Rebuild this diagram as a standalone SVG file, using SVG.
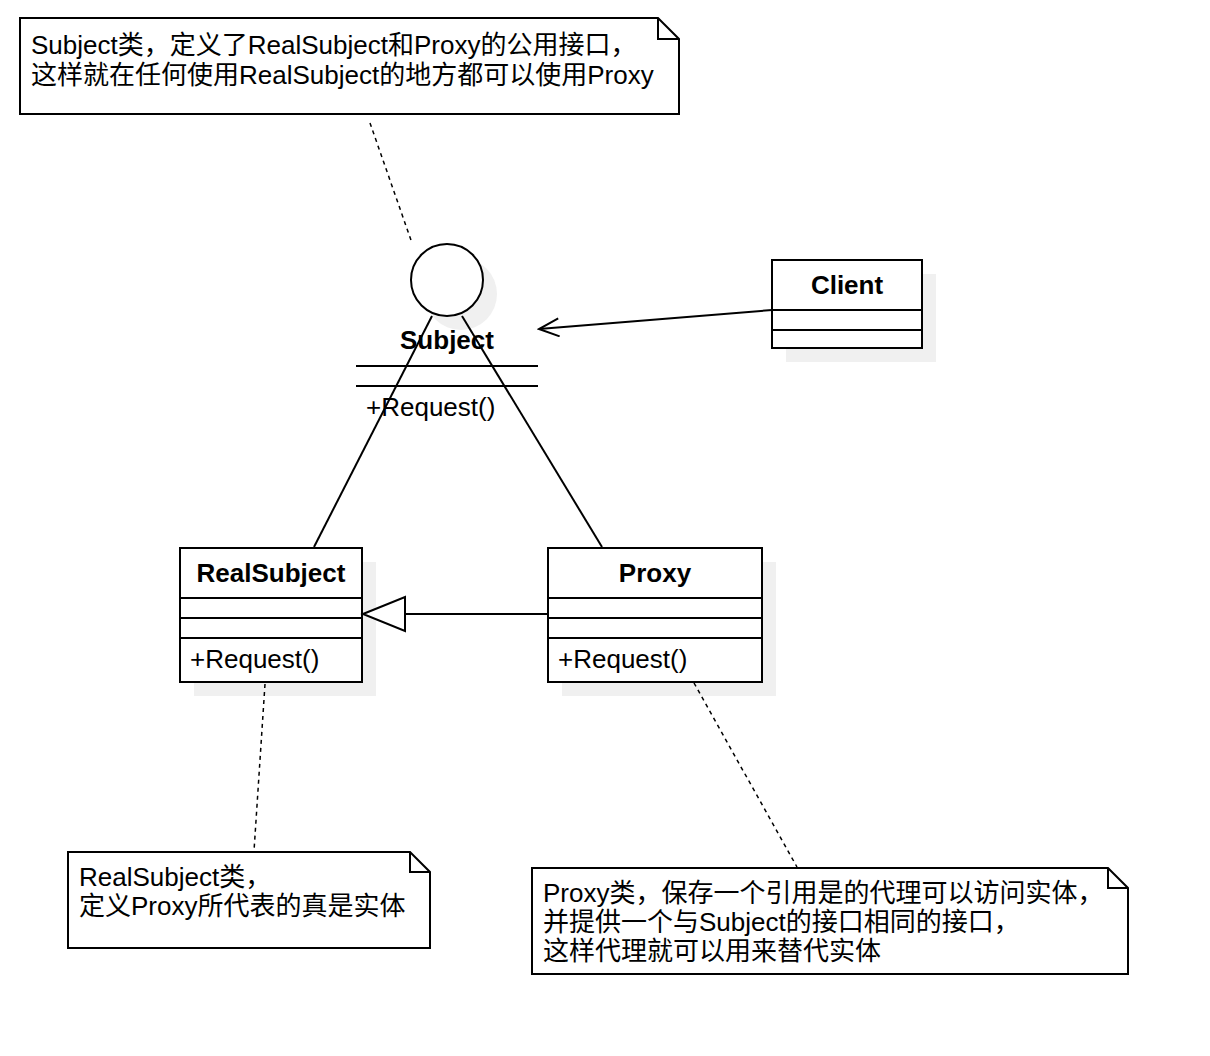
<svg xmlns="http://www.w3.org/2000/svg" width="1210" height="1056" viewBox="0 0 1210 1056">
<style>
text{font-family:"Liberation Sans","Noto Sans CJK SC",Arial,sans-serif;fill:#000}
.t{font-size:26px}
.b{font-size:26px;font-weight:bold}
.box{fill:#fff;stroke:#000;stroke-width:2}
.sh{fill:#f0f0f0;stroke:none}
.ln{stroke:#000;stroke-width:2;fill:none}
.dash{stroke:#000;stroke-width:1.5;fill:none;stroke-dasharray:4 4}
</style>
<defs>
<marker id="open" markerWidth="24" markerHeight="20" refX="22" refY="10" orient="auto" markerUnits="userSpaceOnUse">
<path d="M2,1 L22,10 L2,19" fill="none" stroke="#000" stroke-width="2"/>
</marker>
</defs>
<rect width="1210" height="1056" fill="#fff"/>

<g id="note-subject">
<path class="box" d="M20,18 L658,18 L679,39 L679,114 L20,114 Z"/>
<path class="ln" d="M658,18 L658,39 L679,39"/>
<text class="t" x="31" y="54">Subject类，定义了RealSubject和Proxy的公用接口，</text>
<text class="t" x="31" y="84">这样就在任何使用RealSubject的地方都可以使用Proxy</text>
</g>

<g id="subject">
<circle class="sh" cx="461" cy="294" r="36"/>
<circle cx="447" cy="280" r="36" fill="#fff" stroke="#000" stroke-width="2"/>
<text class="b" x="447" y="349" text-anchor="middle">Subject</text>
<line class="ln" x1="356" y1="366" x2="538" y2="366"/>
<line class="ln" x1="356" y1="386" x2="538" y2="386"/>
<text class="t" x="366" y="416">+Request()</text>
</g>

<g id="client">
<rect class="sh" x="786" y="274" width="150" height="88"/>
<rect class="box" x="772" y="260" width="150" height="88"/>
<line class="ln" x1="772" y1="310" x2="922" y2="310"/>
<line class="ln" x1="772" y1="330" x2="922" y2="330"/>
<text class="b" x="847" y="294" text-anchor="middle">Client</text>
</g>

<g id="realsubject">
<rect class="sh" x="194" y="562" width="182" height="134"/>
<rect class="box" x="180" y="548" width="182" height="134"/>
<line class="ln" x1="180" y1="598" x2="362" y2="598"/>
<line class="ln" x1="180" y1="618" x2="362" y2="618"/>
<line class="ln" x1="180" y1="638" x2="362" y2="638"/>
<text class="b" x="271" y="582" text-anchor="middle">RealSubject</text>
<text class="t" x="190" y="668">+Request()</text>
</g>

<g id="proxy">
<rect class="sh" x="562" y="562" width="214" height="134"/>
<rect class="box" x="548" y="548" width="214" height="134"/>
<line class="ln" x1="548" y1="598" x2="762" y2="598"/>
<line class="ln" x1="548" y1="618" x2="762" y2="618"/>
<line class="ln" x1="548" y1="638" x2="762" y2="638"/>
<text class="b" x="655" y="582" text-anchor="middle">Proxy</text>
<text class="t" x="558" y="668">+Request()</text>
</g>

<g id="note-realsubject">
<path class="box" d="M68,852 L410,852 L430,872 L430,948 L68,948 Z"/>
<path class="ln" d="M410,852 L410,872 L430,872"/>
<text class="t" x="79" y="886">RealSubject类，</text>
<text class="t" x="79" y="915">定义Proxy所代表的真是实体</text>
</g>

<g id="note-proxy">
<path class="box" d="M532,868 L1108,868 L1128,888 L1128,974 L532,974 Z"/>
<path class="ln" d="M1108,868 L1108,888 L1128,888"/>
<text class="t" x="543" y="902">Proxy类，保存一个引用是的代理可以访问实体，</text>
<text class="t" x="543" y="931">并提供一个与Subject的接口相同的接口，</text>
<text class="t" x="543" y="960">这样代理就可以用来替代实体</text>
</g>

<g id="connectors">
<line class="dash" x1="370" y1="123" x2="412" y2="243"/>
<line class="dash" x1="265" y1="684" x2="254" y2="851"/>
<line class="dash" x1="694" y1="683" x2="797" y2="867"/>
<line class="ln" x1="432" y1="316" x2="314" y2="547"/>
<line class="ln" x1="462" y1="316" x2="602" y2="547"/>
<line class="ln" x1="772" y1="310" x2="539" y2="329" marker-end="url(#open)"/>
<line class="ln" x1="548" y1="614" x2="405" y2="614"/>
<path d="M363,614 L405,597 L405,631 Z" fill="#fff" stroke="#000" stroke-width="2"/>
</g>
</svg>
